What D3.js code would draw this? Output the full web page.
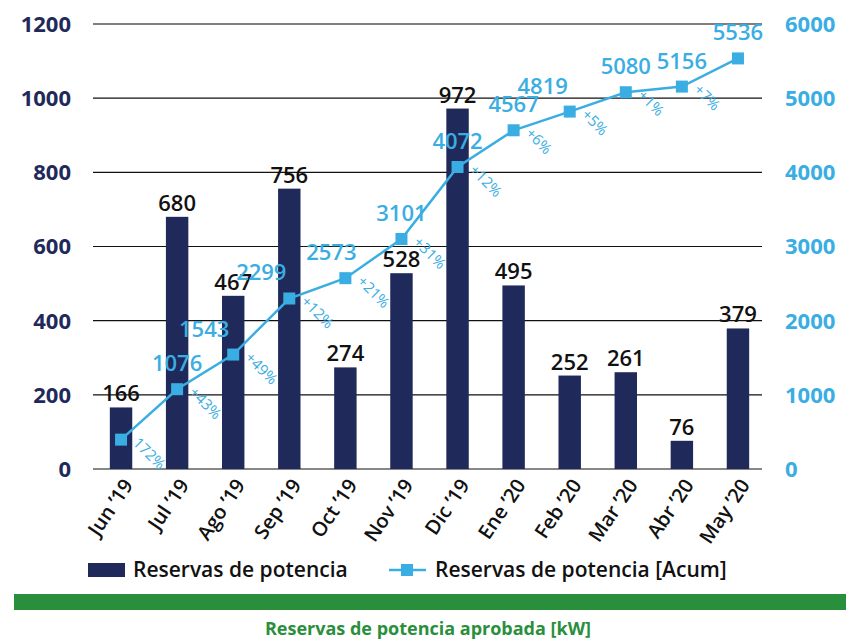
<!DOCTYPE html>
<html>
<head>
<meta charset="utf-8">
<script src="https://cdn.jsdelivr.net/npm/d3@7"></script>
<style>
  body { margin: 0; background: #fff; }
  svg { display: block; font-family: "Open Sans", sans-serif; }
</style>
</head>
<body>
<div id="chart"></div>
<script>
// data
var months    = ["Jun \u201919", "Jul \u201919", "Ago \u201919", "Sep \u201919", "Oct \u201919", "Nov \u201919",
                 "Dic \u201919", "Ene \u201920", "Feb \u201920", "Mar \u201920", "Abr \u201920", "May \u201920"];
var reservas  = [166, 680, 467, 756, 274, 528, 972, 495, 252, 261, 76, 379];
var acumulado = [396, 1076, 1543, 2299, 2573, 3101, 4072, 4567, 4819, 5080, 5156, 5536];
var cambios   = ["172%", "+43%", "+49%", "+12%", "+21%", "+31%", "+12%", "+6%", "+5%", "+1%", "+7%", ""];
var leftTicks  = [0, 200, 400, 600, 800, 1000, 1200];
var rightTicks = [0, 1000, 2000, 3000, 4000, 5000, 6000];

var navy  = "#1f2a5a";
var blue  = "#3aaee2";
var green = "#2a8f3c";

var width  = 850;
var height = 644;
var m = { left: 93, right: 84, top: 24, bottom: 175 };

var svg = d3.select("#chart").append("svg")
    .attr("width", width)
    .attr("height", height);

var x = d3.scaleBand().domain(months).range([m.left, width - m.right]).paddingInner(0.6).paddingOuter(0.3);
var yL = d3.scaleLinear().domain([0, 1200]).range([height - m.bottom, m.top]);
var yR = d3.scaleLinear().domain([0, 6000]).range([height - m.bottom, m.top]);
var cx = function(i) { return x(months[i]) + x.bandwidth() / 2; };

// grid lines
svg.append("g").selectAll("line").data(leftTicks).enter().append("line")
    .attr("x1", m.left).attr("x2", width - m.right - 4)
    .attr("y1", function(d) { return yL(d); })
    .attr("y2", function(d) { return yL(d); })
    .attr("stroke", function(d) { return d == 1200 ? "#555" : "#111"; })
    .attr("stroke-width", function(d) { return d == 1200 ? 1.6 : 1.2; });

// left axis labels
svg.append("g").selectAll("text").data(leftTicks).enter().append("text")
    .attr("x", 71).attr("y", function(d) { return yL(d); })
    .attr("dy", "0.36em").attr("text-anchor", "end")
    .attr("fill", navy).attr("font-size", 22).attr("font-weight", 700)
    .text(function(d) { return d; });

// right axis labels
svg.append("g").selectAll("text").data(rightTicks).enter().append("text")
    .attr("x", 785).attr("y", function(d) { return yR(d); })
    .attr("dy", "0.36em").attr("text-anchor", "start")
    .attr("fill", blue).attr("font-size", 22).attr("font-weight", 700)
    .text(function(d) { return d; });

// bars
svg.append("g").selectAll("rect").data(reservas).enter().append("rect")
    .attr("x", function(d, i) { return x(months[i]); })
    .attr("y", function(d) { return yL(d); })
    .attr("width", x.bandwidth())
    .attr("height", function(d) { return yL(0) - yL(d); })
    .attr("fill", navy);

// bar labels
svg.append("g").selectAll("text").data(reservas).enter().append("text")
    .attr("x", function(d, i) { return cx(i); })
    .attr("y", function(d) { return yL(d) - 6; })
    .attr("text-anchor", "middle")
    .attr("fill", "#111").attr("font-size", 22).attr("font-weight", 600)
    .text(function(d) { return d; });

// cumulative line
var line = d3.line().x(function(d, i) { return cx(i); }).y(function(d) { return yR(d); });
svg.append("path").datum(acumulado)
    .attr("d", line).attr("fill", "none")
    .attr("stroke", blue).attr("stroke-width", 2.5);

svg.append("g").selectAll("rect").data(acumulado).enter().append("rect")
    .attr("x", function(d, i) { return cx(i) - 6; })
    .attr("y", function(d) { return yR(d) - 6; })
    .attr("width", 12).attr("height", 12)
    .attr("fill", blue);

// cumulative value labels (some nudged left so they don't sit on the line)
var nudge = { 2: -29, 3: -28, 4: -14, 8: -27 };
svg.append("g").selectAll("text").data(acumulado).enter().filter(function(d, i) { return i > 0; })
    .append("text")
    .attr("x", function(d, i) { return cx(i + 1) + (nudge[i + 1] || 0); })
    .attr("y", function(d) { return yR(d) - 18; })
    .attr("text-anchor", "middle")
    .attr("fill", blue).attr("font-size", 22).attr("font-weight", 600)
    .text(function(d) { return d; });

// percentage labels, rotated
svg.append("g").selectAll("text").data(cambios).enter().append("text")
    .attr("transform", function(d, i) {
        return "translate(" + (cx(i) + 11) + "," + (yR(acumulado[i]) + 4) + ") rotate(45)";
    })
    .attr("fill", blue).attr("font-size", 15)
    .text(function(d) { return d; });

// x labels
svg.append("g").selectAll("text").data(months).enter().append("text")
    .attr("transform", function(d) {
        return "translate(" + (x(d) + x.bandwidth() / 2 + 7) + "," + (yL(0) + 12) + ") rotate(-56)";
    })
    .attr("text-anchor", "end").attr("dy", "0.35em")
    .attr("fill", "#111").attr("font-size", 20).attr("font-weight", 600)
    .text(function(d) { return d; });

// legend
var lg = svg.append("g");
lg.append("rect").attr("x", 88).attr("y", 563).attr("width", 37).attr("height", 14).attr("fill", navy);
lg.append("text").attr("x", 133).attr("y", 570).attr("dy", "0.35em")
    .attr("font-size", 21).attr("font-weight", 600).attr("fill", "#111")
    .text("Reservas de potencia");
lg.append("line").attr("x1", 389).attr("x2", 426).attr("y1", 570).attr("y2", 570)
    .attr("stroke", blue).attr("stroke-width", 2.5);
lg.append("rect").attr("x", 401).attr("y", 564).attr("width", 12).attr("height", 12).attr("fill", blue);
lg.append("text").attr("x", 435).attr("y", 570).attr("dy", "0.35em")
    .attr("font-size", 21).attr("font-weight", 600).attr("fill", "#111")
    .text("Reservas de potencia [Acum]");

// green band + title
svg.append("rect").attr("x", 14).attr("y", 594).attr("width", 832).attr("height", 16).attr("fill", green);
svg.append("text").attr("x", 428).attr("y", 635).attr("text-anchor", "middle")
    .attr("fill", green).attr("font-size", 18).attr("font-weight", 700)
    .text("Reservas de potencia aprobada [kW]");
</script>
</body>
</html>
